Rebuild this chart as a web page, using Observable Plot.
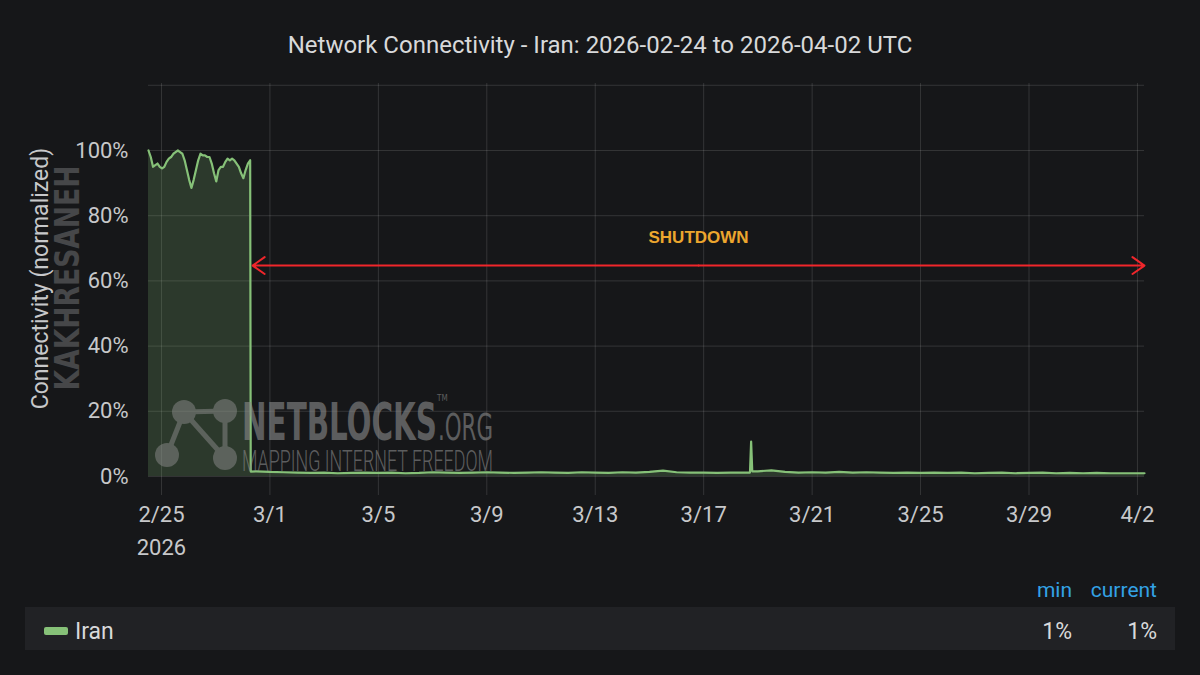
<!DOCTYPE html>
<html>
<head>
<meta charset="utf-8">
<script src="https://cdn.jsdelivr.net/npm/d3@7"></script>
<script src="https://cdn.jsdelivr.net/npm/@observablehq/plot@0.6"></script>
<style>
  html, body { margin: 0; padding: 0; background: #161719; }
  body { width: 1200px; height: 675px; overflow: hidden; position: relative; font-family: Roboto, "Noto Sans", sans-serif; }
  #title { position: absolute; left: 0; top: 29px; width: 1200px; text-align: center; color: #d8d9da; font-size: 24px; line-height: 32px; }
  #chart { position: absolute; left: 0; top: 0; }
  #wm { position: absolute; left: 0; top: 0; pointer-events: none; }
  .lh { position: absolute; top: 577px; color: #33a2e5; font-size: 21px; line-height: 26px; text-align: right; }
  #row { position: absolute; left: 25px; top: 607px; width: 1150px; height: 43px; background: #212225; }
  #sw { position: absolute; left: 19px; top: 20px; width: 24px; height: 8px; border-radius: 2px; background: #86c178; }
  #name { position: absolute; left: 50px; top: 11px; color: #d8d9da; font-size: 23px; line-height: 28px; }
  .lv { position: absolute; top: 11px; color: #d8d9da; font-size: 23px; line-height: 28px; text-align: right; }
</style>
</head>
<body>
<div id="title"></div>
<div id="chart"></div>
<svg id="wm" width="1200" height="560">
  <g opacity="0.5">
    <text transform="translate(79,278) rotate(-90)" text-anchor="middle" font-family="DejaVu Sans Condensed, DejaVu Sans" font-weight="bold" font-size="34" textLength="225" lengthAdjust="spacingAndGlyphs" fill="#77777a">KAKHRESANEH</text>
  </g>
  <g opacity="0.5">
    <g stroke="#8c8c8c" stroke-width="5">
      <line x1="184" y1="412" x2="225" y2="411"/>
      <line x1="184" y1="412" x2="167" y2="455"/>
      <line x1="184" y1="412" x2="225" y2="458"/>
      <line x1="225" y1="411" x2="225" y2="458"/>
    </g>
    <g fill="#8c8c8c">
      <circle cx="184" cy="412" r="12"/>
      <circle cx="225" cy="411" r="12"/>
      <circle cx="167" cy="455" r="12"/>
      <circle cx="225" cy="458" r="12"/>
    </g>
  </g>
  <g opacity="0.6" fill="#8c8c8c">
    <text x="242" y="440" font-family="DejaVu Sans Condensed, DejaVu Sans"><tspan font-weight="bold" font-size="52" textLength="195" lengthAdjust="spacingAndGlyphs">NETBLOCKS</tspan><tspan font-size="8" dy="-39">TM</tspan><tspan x="438" dy="39" font-size="38" textLength="55" lengthAdjust="spacingAndGlyphs">.ORG</tspan><tspan x="242" dy="31" font-family="Roboto" font-weight="300" font-size="29" textLength="251" lengthAdjust="spacingAndGlyphs">MAPPING INTERNET FREEDOM</tspan></text>
  </g>
</svg>
<div class="lh" id="hmin" style="right:128px"></div>
<div class="lh" id="hcur" style="right:43px"></div>
<div id="row">
  <div id="sw"></div>
  <div id="name"></div>
  <div class="lv" id="vmin" style="right:103px"></div>
  <div class="lv" id="vcur" style="right:18px"></div>
</div>
<script>
// ---- data ----
const titleText = "Network Connectivity - Iran: 2026-02-24 to 2026-04-02 UTC";
const seriesName = "Iran";
const yLabel = "Connectivity (normalized)";
const annotationText = "SHUTDOWN";

// pre-shutdown readings, every 2 hours from 2026-02-24 12:30 UTC (percent)
const preStart = "2026-02-24T12:30Z";
const preStepHours = 2;
const preValues = [100, 98, 95, 95.5, 96, 95, 94.5, 95, 96.5, 97.5,
  98, 99, 99.5, 100, 99.5, 99, 97, 94, 91, 88.5,
  91, 94, 97, 99, 98.5, 98.5, 98, 98, 96, 93,
  90.5, 94, 95, 95, 96.5, 97.5, 97, 97.5, 97, 96,
  95, 93, 91.5, 94, 96, 97];

// shutdown drop
const dropTimes = ["2026-02-28T07:00Z"];
const dropValues = [1.5];

// post-shutdown readings, every 12 hours from 2026-02-28 12:00 to 2026-04-02 00:00 UTC (percent)
const postStart = "2026-02-28T12:00Z";
const postStepHours = 12;
const postValues = [1.6, 1.4, 1.3, 1.2, 1.1, 1.2, 1.0, 1.1, 1.2, 1.1,
  1.2, 1.0, 1.1, 1.3, 1.2, 1.1, 1.2, 1.3, 1.2, 1.1,
  1.2, 1.3, 1.2, 1.1, 1.3, 1.2, 1.1, 1.3, 1.2, 1.4,
  1.8, 1.3, 1.2, 1.2, 1.1, 1.2, 1.2, 1.6, 1.9, 1.4,
  1.2, 1.3, 1.2, 1.4, 1.2, 1.3, 1.2, 1.1, 1.2, 1.1,
  1.2, 1.1, 1.2, 1.0, 1.1, 1.2, 1.0, 1.1, 1.2, 1.0,
  1.1, 1.0, 1.1, 1.0, 1.0, 1.0];

// brief spike on 3/18
const spikeTimes = ["2026-03-18T17:00Z", "2026-03-18T18:00Z", "2026-03-18T19:00Z"];
const spikeValues = [1.2, 10.7, 1.6];

// last reading
const endTimes = ["2026-04-02T06:15Z"];
const endValues = [1.0];

// axes
const xDomain = ["2026-02-24T12:30Z", "2026-04-02T06:15Z"];
const xTickDates = ["2026-02-25", "2026-03-01", "2026-03-05", "2026-03-09", "2026-03-13",
  "2026-03-17", "2026-03-21", "2026-03-25", "2026-03-29", "2026-04-02"];
const xTickLabels = ["2/25\n2026", "3/1", "3/5", "3/9", "3/13", "3/17", "3/21", "3/25", "3/29", "4/2"];
const yTicks = [0, 20, 40, 60, 80, 100];
const yGridTicks = [0, 20, 40, 60, 80, 100, 120];

// shutdown annotation
const shutdownStart = "2026-02-28T08:40Z";
const shutdownEnd = "2026-04-02T06:15Z";
const shutdownLevel = 64.7;
const shutdownLabelLevel = 73.3;

// ---- build table ----
const H = 3600 * 1000;
const rows = [];
preValues.forEach((v, i) => rows.push({t: new Date(+new Date(preStart) + i * preStepHours * H), v}));
dropTimes.forEach((t, i) => rows.push({t: new Date(t), v: dropValues[i]}));
postValues.forEach((v, i) => rows.push({t: new Date(+new Date(postStart) + i * postStepHours * H), v}));
spikeTimes.forEach((t, i) => rows.push({t: new Date(t), v: spikeValues[i]}));
endTimes.forEach((t, i) => rows.push({t: new Date(t), v: endValues[i]}));
rows.sort((a, b) => a.t - b.t);

const tickLabelMap = new Map(xTickDates.map((d, i) => [+new Date(d + "T00:00Z"), xTickLabels[i]]));
const xTicks = xTickDates.map(d => new Date(d + "T00:00Z"));
const s0 = new Date(shutdownStart), s1 = new Date(shutdownEnd);
const sMid = new Date((+s0 + +s1) / 2);

const green = "#86c178";
const red = "#f0262b";

const chart = Plot.plot({
  width: 1200,
  height: 580,
  marginTop: 83,
  marginBottom: 85,
  marginLeft: 148,
  marginRight: 56,
  style: {background: "transparent", color: "#c7c8ca", fontFamily: "Roboto, sans-serif", fontSize: "21px"},
  x: {type: "utc", domain: xDomain.map(d => new Date(d))},
  y: {domain: [-5.83, 120.55]},
  marks: [
    Plot.gridX(xTicks, {stroke: "#ffffff", strokeOpacity: 0.13}),
    Plot.gridY(yGridTicks, {stroke: "#ffffff", strokeOpacity: 0.13}),
    Plot.areaY(rows, {x: "t", y: "v", fill: green, fillOpacity: 0.2}),
    Plot.lineY(rows, {x: "t", y: "v", stroke: green, strokeWidth: 2.2}),
    Plot.axisX(xTicks, {tickSize: 0, tickPadding: 3, fontSize: 22, lineHeight: 1.5,
      tickFormat: d => tickLabelMap.get(+d), label: null}),
    Plot.axisY(yTicks, {tickSize: 0, tickPadding: 20, fontSize: 22,
      tickFormat: d => d + "%", label: null}),
    Plot.text([yLabel], {frameAnchor: "left", textAnchor: "middle", rotate: -90, dx: -108, dy: -11, text: d => d,
      fontSize: 23, fill: "#c7c8ca"}),
    Plot.arrow([{x1: sMid, x2: s0}, {x1: sMid, x2: s1}], {x1: "x1", x2: "x2", y1: shutdownLevel, y2: shutdownLevel,
      stroke: red, strokeWidth: 2, headLength: 11, headAngle: 70}),
    Plot.text([annotationText], {x: sMid, y: shutdownLabelLevel, text: d => d, fill: "#eca62e",
      fontWeight: "bold", fontSize: 17, fontFamily: "Liberation Sans, Arial, sans-serif"})
  ]
});
document.getElementById("chart").appendChild(chart);

document.getElementById("title").textContent = titleText;
document.getElementById("name").textContent = seriesName;
document.getElementById("hmin").textContent = "min";
document.getElementById("hcur").textContent = "current";
document.getElementById("vmin").textContent = Math.round(d3.min(rows, d => d.v)) + "%";
document.getElementById("vcur").textContent = Math.round(rows[rows.length - 1].v) + "%";
</script>
</body>
</html>
